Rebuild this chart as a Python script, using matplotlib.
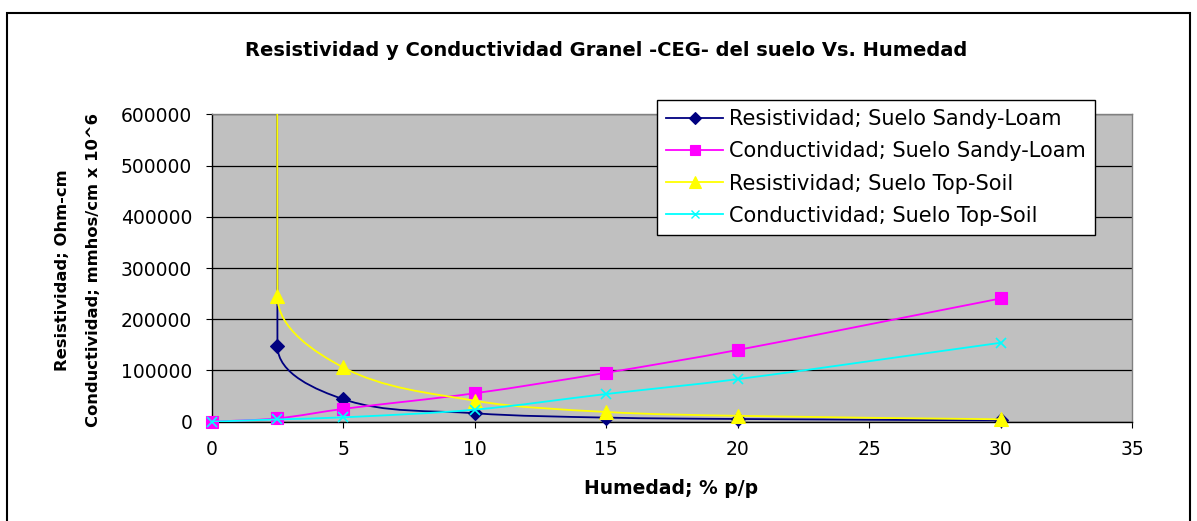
import numpy as np
import matplotlib
matplotlib.use("Agg")
import matplotlib.pyplot as plt
from matplotlib.path import Path
from matplotlib.patches import PathPatch, Rectangle
from matplotlib.lines import Line2D

# ---------------- data ----------------
humedad = [0, 2.5, 5, 10, 15, 20, 30]            # % p/p (conductividad)
humedad_res = [2.5, 2.5, 5, 10, 15, 20, 30]      # % p/p (resistividad; 1er punto fuera de escala)
RES_FUERA = 1.0e8                                 # resistividad muy alta (fuera de escala)

res_sandy = [RES_FUERA, 148000, 44000, 16500, 8000, 5300, 2500]
cond_sandy = [0, 6500, 25000, 55500, 95500, 140000, 240500]
res_top = [RES_FUERA, 245000, 106000, 41000, 19000, 11500, 4700]
cond_top = [0, 4500, 8500, 23500, 54000, 83000, 154000]

labels = ["Resistividad; Suelo Sandy-Loam",
          "Conductividad; Suelo Sandy-Loam",
          "Resistividad; Suelo Top-Soil",
          "Conductividad; Suelo Top-Soil"]
colors = ["#000080", "#FF00FF", "#FFFF00", "#00FFFF"]
markers = ["D", "s", "^", "x"]
msizes = [7, 8, 10, 7.5]

xticks = [0, 5, 10, 15, 20, 25, 30, 35]
yticks = [0, 100000, 200000, 300000, 400000, 500000, 600000]

title = "Resistividad y Conductividad Granel -CEG- del suelo Vs. Humedad"
xlabel = "Humedad; % p/p"
ylabel = "Resistividad; Ohm-cm\nConductividad; mmhos/cm x 10^6"

# ---------------- figure ----------------
W, H = 1197, 521
fig = plt.figure(figsize=(W / 100, H / 100), dpi=100)
plt.rcParams['font.family'] = ['DejaVu Sans']

ax_l, ax_r, ax_t, ax_b = 211.7, 1132.0, 114.3, 421.7
ax = fig.add_axes([ax_l / W, 1 - ax_b / H, (ax_r - ax_l) / W, (ax_b - ax_t) / H])
ax.set_facecolor("#C0C0C0")
ax.set_xlim(0, 35)
ax.set_ylim(0, 600000)
ax.set_xticks(xticks)
ax.set_yticks(yticks)
ax.set_xticklabels([str(v) for v in xticks])
ax.set_yticklabels([str(v) for v in yticks])
ax.tick_params(axis='both', direction='out', length=4.5, width=0.8, colors='black',
               labelsize=13.5)
ax.tick_params(axis='y', pad=9.5)
ax.tick_params(axis='x', pad=9)
ax.grid(axis='y', color='black', linewidth=0.9, zorder=1)
ax.set_axisbelow(True)
for s in ['left', 'bottom']:
    ax.spines[s].set_color('black')
    ax.spines[s].set_linewidth(1.0)
for s in ['top', 'right']:
    ax.spines[s].set_color('#808080')
    ax.spines[s].set_linewidth(1.0)


def smooth_path(xs, ys):
    """Bezier smoothing (Excel-like) computed in display space."""
    tr = ax.transData
    P = tr.transform(np.column_stack([xs, ys]).astype(float))
    n = len(P)
    D = []
    for i in range(n):
        a = P[max(i - 1, 0)]
        b = P[min(i + 1, n - 1)]
        d = b - a
        D.append(d / (np.hypot(*d) or 1.0))
    verts = [P[0]]
    codes = [Path.MOVETO]
    for i in range(n - 1):
        L = np.hypot(*(P[i + 1] - P[i]))
        c1 = P[i] + D[i] * L / 3.0
        c2 = P[i + 1] - D[i + 1] * L / 3.0
        verts += [c1, c2, P[i + 1]]
        codes += [Path.CURVE4] * 3
    verts = tr.inverted().transform(np.array(verts))
    return Path(verts, codes)


ymax = ax.get_ylim()[1]
series = [(humedad_res, res_sandy), (humedad, cond_sandy),
          (humedad_res, res_top), (humedad, cond_top)]
handles = []
for k, ((xs, ys), c, m, ms, lab) in enumerate(zip(series, colors, markers, msizes, labels)):
    z = 3 + k
    patch = PathPatch(smooth_path(xs, ys), facecolor='none', edgecolor=c,
                      linewidth=1.3, transform=ax.transData, zorder=z)
    ax.add_patch(patch)
    vis = [(x, y) for x, y in zip(xs, ys) if y <= ymax]
    ax.plot([p[0] for p in vis], [p[1] for p in vis], linestyle='none', marker=m,
            markersize=ms, color=c, markeredgecolor=c,
            markeredgewidth=1.2 if m == 'x' else 0.8,
            zorder=z + 0.5, clip_on=False)
    handles.append(Line2D([], [], color=c, linewidth=1.3, marker=m,
                          markersize=ms * 0.85, markeredgecolor=c,
                          markeredgewidth=1.0 if m == 'x' else 0.8))

leg = fig.legend(handles, labels, loc='upper left',
                 bbox_to_anchor=(657 / W, 1 - 100 / H), bbox_transform=fig.transFigure,
                 fontsize=15, frameon=True, fancybox=False, shadow=False,
                 edgecolor='black', facecolor='white', framealpha=1.0,
                 borderpad=0.45, labelspacing=0.58, handlelength=2.7,
                 handletextpad=0.3, borderaxespad=0)
leg.get_frame().set_linewidth(1.0)
leg.set_zorder(10)

fig.text(606 / W, 1 - 50 / H, title, ha='center', va='center',
         fontsize=14, fontweight='bold')
fig.text(671 / W, 1 - 489 / H, xlabel, ha='center', va='center',
         fontsize=13.5, fontweight='bold')
fig.text(78 / W, 1 - 270 / H, ylabel, ha='center', va='center', rotation=90,
         fontsize=11.8, fontweight='bold', multialignment='center', linespacing=2.3)

# outer chart border
fig.patches.append(Rectangle((7 / W, -0.02), (1190 - 7) / W, 1.02 - 13 / H,
                             transform=fig.transFigure, fill=False,
                             edgecolor='black', linewidth=1.5))

fig.savefig("out.png", dpi=100)
